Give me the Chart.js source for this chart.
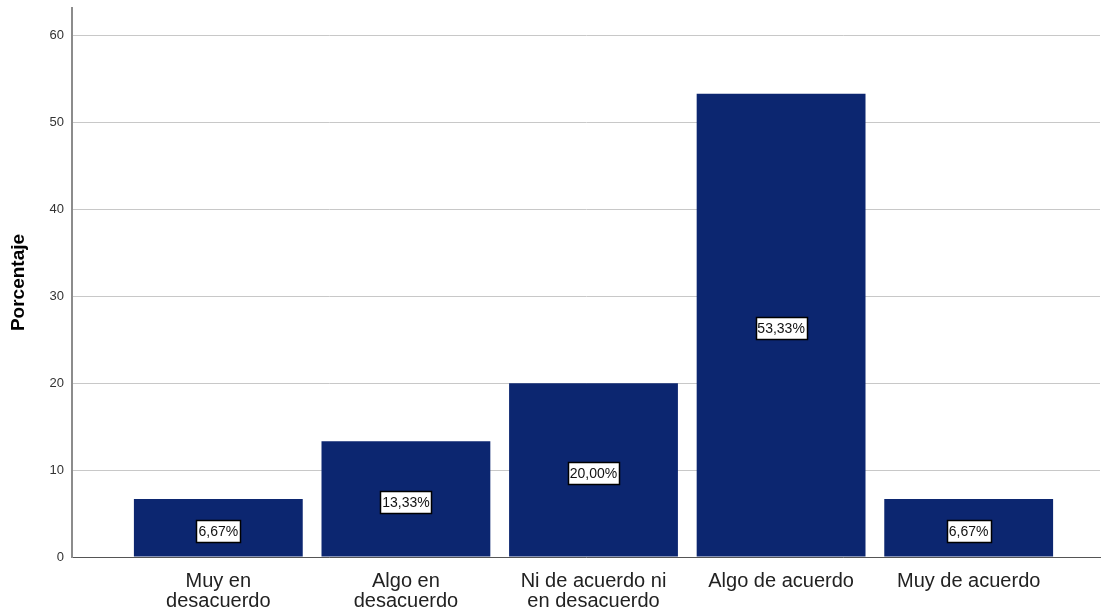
<!DOCTYPE html>
<html>
  <head>
    <meta charset="utf-8" />
    <title>Porcentaje</title>
    <script src="https://cdn.jsdelivr.net/npm/chart.js"></script>
    <style>
      * {
        box-sizing: border-box;
        margin: 0;
        padding: 0;
      }
      body {
        background: #fff;
      }
    </style>
  </head>
  <body>
    <canvas id="chart" width="1104" height="609"></canvas>
    <script>
      // categories and values
      const categories = [
        ["Muy en", "desacuerdo"],
        ["Algo en", "desacuerdo"],
        ["Ni de acuerdo ni", "en desacuerdo"],
        ["Algo de acuerdo"],
        ["Muy de acuerdo"],
      ];
      const percents = [6.67, 13.33, 20.0, 53.33, 6.67];
      const yTicks = [0, 10, 20, 30, 40, 50, 60];

      const FONT = "'Liberation Sans', Arial, sans-serif";

      // white boxes with the value in the middle of each bar
      const barLabels = {
        id: "barLabels",
        afterDatasetsDraw(chart) {
          const ctx = chart.ctx;
          const meta = chart.getDatasetMeta(0);
          ctx.save();
          ctx.font = "14px " + FONT;
          ctx.textAlign = "center";
          ctx.textBaseline = "middle";
          meta.data.forEach((bar, i) => {
            const txt = percents[i].toFixed(2).replace(".", ",") + "%";
            const cx = bar.x;
            const cy = (bar.y + bar.base) / 2 + 3;
            const w = Math.round(ctx.measureText(txt).width + 4);
            const h = 22;
            const x0 = Math.round(cx - w / 2) + 0.5;
            const y0 = Math.round(cy - h / 2) + 0.5;
            ctx.fillStyle = "#fff";
            ctx.fillRect(x0, y0, w, h);
            ctx.strokeStyle = "#000";
            ctx.lineWidth = 1.5;
            ctx.strokeRect(x0, y0, w, h);
            ctx.fillStyle = "#111";
            ctx.fillText(txt, cx, cy + 1);
          });
          ctx.restore();
        },
      };

      new Chart(document.getElementById("chart").getContext("2d"), {
        type: "bar",
        data: {
          datasets: [
            {
              label: "Porcentaje",
              data: percents.map((v, i) => ({ x: i, y: v })),
              backgroundColor: "#0c2670",
              borderWidth: 0,
              barPercentage: 0.9,
              categoryPercentage: 1,
            },
          ],
        },
        options: {
          responsive: false,
          animation: false,
          layout: {
            padding: { top: 8, right: 4, left: 0, bottom: 0 },
          },
          plugins: {
            legend: { display: false },
            tooltip: { enabled: false },
          },
          scales: {
            x: {
              type: "linear",
              offset: false,
              min: -0.78,
              max: 4.7,
              afterBuildTicks: (axis) => {
                axis.ticks = categories.map((_, i) => ({ value: i }));
              },
              afterFit: (axis) => {
                axis.height = 52;
                axis.paddingLeft = 0;
                axis.paddingRight = 0;
              },
              grid: { display: false, drawTicks: false },
              border: { color: "#555", width: 1 },
              ticks: {
                autoSkip: false,
                maxRotation: 0,
                padding: 14,
                color: "#222",
                font: { family: FONT, size: 20, lineHeight: 1.0 },
                callback: (v) => categories[v],
              },
            },
            y: {
              min: 0,
              max: 63.2,
              afterBuildTicks: (axis) => {
                axis.ticks = yTicks.map((v) => ({ value: v }));
              },
              afterFit: (axis) => {
                axis.width = 72;
                axis.paddingTop = 0;
                axis.paddingBottom = 0;
              },
              grid: { color: "#c8c8c8", lineWidth: 1, drawTicks: false },
              border: { color: "#8c8c8c", width: 2 },
              ticks: {
                padding: 8,
                color: "#333",
                font: { family: FONT, size: 13 },
              },
              title: {
                display: true,
                text: "Porcentaje",
                color: "#000",
                padding: { top: 7, bottom: 0 },
                font: { family: FONT, size: 19, weight: "bold" },
              },
            },
          },
        },
        plugins: [barLabels],
      });
    </script>
  </body>
</html>
